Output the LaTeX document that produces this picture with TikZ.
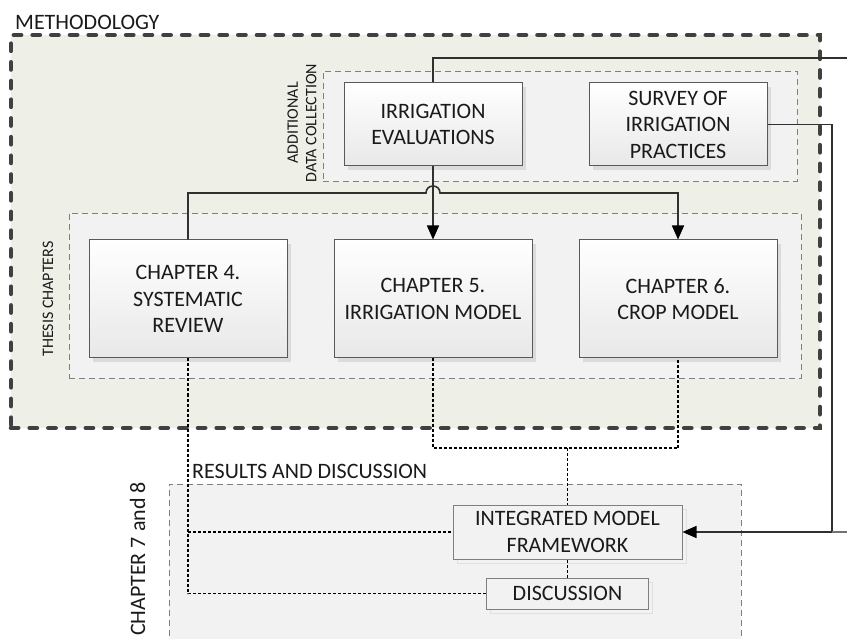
\documentclass[tikz,border=0pt]{standalone}
\usepackage{fontspec}
\setmainfont{Carlito}
\usetikzlibrary{arrows.meta,shadows}
\definecolor{outerfill}{HTML}{EEF0E7}
\definecolor{innerfill}{HTML}{F2F2F2}
\definecolor{dashgrey}{HTML}{7F7F7F}
\definecolor{thickgrey}{HTML}{404040}
\definecolor{connc}{HTML}{303030}
\definecolor{boxline}{HTML}{595959}
\definecolor{txt}{HTML}{1A1A1A}
\tikzset{
  big/.style={font=\fontsize{22}{26.5}\selectfont, text=txt},
  small/.style={font=\fontsize{16}{18.5}\selectfont, text=txt},
  outerbox/.style={draw=thickgrey, line width=4.6pt, line cap=round, dash pattern=on 7.2pt off 11.5pt, fill=outerfill, inner sep=0pt},
  groupbox/.style={draw=dashgrey, line width=0.9pt, dash pattern=on 6pt off 4pt, fill=innerfill, inner sep=0pt},
  procbox/.style={big, draw=boxline, line width=1pt, top color=white, bottom color=black!9, align=center, inner sep=0pt,
     drop shadow={shadow xshift=4pt, shadow yshift=-4pt, fill=black!14, opacity=1}},
  resbox/.style={big, draw=dashgrey, line width=1pt, fill=innerfill, align=center, inner sep=0pt,
     drop shadow={shadow xshift=4pt, shadow yshift=-4pt, draw=black!12, fill=innerfill, opacity=1}},
  conn/.style={draw=connc, line width=1.6pt},
  tip/.style={-{Triangle[length=14pt,width=12pt,fill=black,color=black]}},
  dotc/.style={draw=black, line width=1.8pt, dash pattern=on 3pt off 2pt},
}
\begin{document}
\begin{tikzpicture}[x=1pt,y=-1pt]
\useasboundingbox (0,0) rectangle (847,639);
% containers
\node[outerbox, minimum width=809pt, minimum height=393pt] (outer) at (415.5,231.5) {};
\node[groupbox, minimum width=474pt, minimum height=110pt] (adc) at (560,126) {};
\node[groupbox, minimum width=732pt, minimum height=165pt] (thesis) at (435,295.5) {};
\node[groupbox, minimum width=572pt, minimum height=160pt] (res) at (455,564) {};
% labels
\node[big, anchor=base west, inner sep=0pt] (lmeth) at (15,29.5) {METHODOLOGY};
\node[small, rotate=90, align=center, inner sep=0pt] (ladc) at (302,123) {ADDITIONAL\\DATA COLLECTION};
\node[small, rotate=90, inner sep=0pt] (lthesis) at (48,299) {THESIS CHAPTERS};
\node[big, anchor=base west, inner sep=0pt] (lres) at (192,478) {RESULTS AND DISCUSSION};
\node[big, rotate=90, anchor=base east, inner sep=0pt] (lch) at (145,482) {CHAPTER 7 and 8};
% process boxes
\node[procbox, minimum width=178pt, minimum height=83pt] (ie) at (433,124.5) {IRRIGATION\\EVALUATIONS};
\node[procbox, minimum width=178pt, minimum height=83pt] (sv) at (678,124.5) {SURVEY OF\\IRRIGATION\\PRACTICES};
\node[procbox, minimum width=198pt, minimum height=118pt] (ch4) at (188,299) {CHAPTER 4.\\SYSTEMATIC\\REVIEW};
\node[procbox, minimum width=198pt, minimum height=118pt] (ch5) at (433,299) {CHAPTER 5.\\IRRIGATION MODEL};
\node[procbox, minimum width=198pt, minimum height=118pt] (ch6) at (678,299) {CHAPTER 6.\\CROP MODEL};
\node[resbox, minimum width=229pt, minimum height=54pt] (imf) at (567.5,532) {INTEGRATED MODEL\\FRAMEWORK};
\node[resbox, minimum width=162pt, minimum height=31pt] (disc) at (567.5,593.5) {DISCUSSION};
% coordinates
\coordinate (outTop) at (847,58);
\coordinate (hopL) at (426,193);
\coordinate (hopR) at (440,193);
\coordinate (cR) at (832,532);
\coordinate (outBot) at (847,532);
\coordinate (j1) at (188,532);
\coordinate (m1) at (567.5,448);
% solid connectors
\draw[conn] (ie.north) |- (outTop);
\draw[conn, tip] (ie.south) -- (ch5.north);
\draw[conn, tip] (ch4.north) |- (hopL) .. controls (426,183.7) and (440,183.7) .. (hopR) -| (ch6.north);
\draw[conn, tip] (sv.east) -| (cR) -- (imf.east);
\draw[conn, draw=black!55] (cR) -- (outBot);
% dotted connectors
\draw[dotc] (ch4.south) |- (disc.west);
\draw[dotc] (j1) -- (imf.west);
\draw[dotc] (ch5.south) |- (m1) -| (ch6.south);
\draw[dotc] (m1) -- (imf.north);
\draw[dotc] (imf.south) -- (disc.north);
\end{tikzpicture}
\end{document}
